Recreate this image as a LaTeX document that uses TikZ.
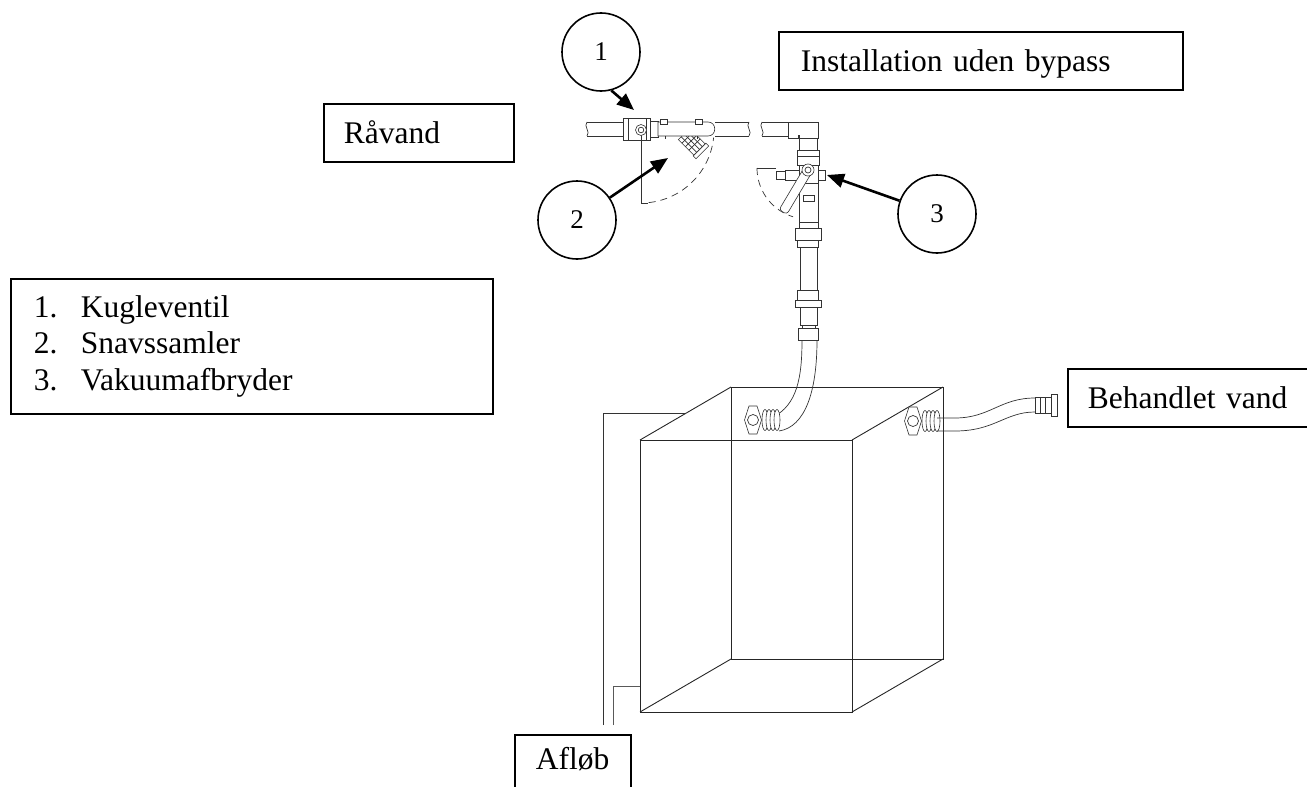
\documentclass[tikz,border=0pt]{standalone}
\usepackage{fontspec}
\setmainfont{Liberation Serif}
\usetikzlibrary{arrows.meta}
\begin{document}
\begin{tikzpicture}[x=1pt,y=-1pt,
  lbl/.style={draw, line width=1.6pt, anchor=north west, text height=22pt, text depth=0pt,
    font=\fontsize{31.5}{36.5}\selectfont, align=left, minimum height=58pt, inner ysep=0pt},
  num/.style={draw, circle, line width=1.6pt, minimum size=78pt, inner sep=0pt, font=\fontsize{27}{30}\selectfont},
  pointer/.style={-{Triangle[length=17pt,width=14pt]}, line width=2.6pt},
  ln/.style={line width=0.7pt, draw=black!80},
  part/.style={line width=0.6pt, draw=black!80, fill=white},
  edge3d/.style={line width=0.9pt, draw=black!85},
  swing/.style={line width=0.7pt, draw=black!80, dash pattern=on 7pt off 5pt},
  brk/.pic={\draw[ln] (0,-7) .. controls (-4,-3) and (4,3) .. (0,7);},
  fitting/.pic={
    \draw[part] (-4,-14) -- (4,-14) -- (8.5,0) -- (4,14) -- (-4,14) -- (-8.5,0) -- cycle;
    \draw[ln] (0,0) circle[radius=5.5];
    \foreach \k in {12,16,20,24} {\draw[part] (\k,0) ellipse[x radius=3, y radius=10.5];}
  },
]
\useasboundingbox (0,0) rectangle (1307,787);

% ---------- text boxes ----------
\node[lbl, inner xsep=20pt, text width=150pt] (raavand) at (323,103) {Råvand};
\node[lbl, inner xsep=22pt, text width=360pt] (install) at (778,31) {Installation uden bypass};
\node[lbl, inner xsep=20pt, text width=200pt] (behandlet) at (1067,368) {Behandlet vand};
\node[lbl, inner xsep=21pt, text width=74pt, minimum height=70pt, text depth=22pt] (afloeb) at (514,734) {Afløb};
\node[draw, line width=1.6pt, anchor=north west, inner xsep=23pt, text width=436pt, minimum height=135pt,
  align=left, font=\fontsize{31.5}{36.5}\selectfont] (legend) at (10,278)
  {\makebox[47pt][l]{1.}Kugleventil\\\makebox[47pt][l]{2.}Snavssamler\\\makebox[47pt][l]{3.}Vakuumafbryder};

% ---------- tank (wire-frame box) ----------
\draw[edge3d] (640,440) rectangle (852,712);
\draw[edge3d] (731,387) rectangle (943,659);
\draw[edge3d] (640,440) -- (731,387) (852,440) -- (943,387) (640,712) -- (731,659) (852,712) -- (943,659);

% ---------- drain ----------
\draw[ln] (603,725) -- (603,413) -- (686,413);
\draw[ln, draw=black!65] (613,725) -- (613,686) -- (640,686);

% ---------- horizontal supply pipe ----------
\draw[ln] (587,122) -- (623,122) (587,136) -- (623,136);
\pic at (587,129) {brk};
% ball valve 1
\draw[part] (623,118) rectangle (650,140);
\draw[ln] (628,118) -- (628,140) (646,118) -- (646,140);
\draw[part] (650,121) rectangle (658,137);
% swing of handle 1
\draw[ln] (641,130) -- (641,203) -- (648,203);
\draw[swing] plot[domain=84:6, samples=30, smooth] ({641+73*cos(\x)},{130+73*sin(\x)});
\draw[part] (641,130) circle[radius=5.5];
\draw[ln] (641,130) circle[radius=2.8];
% strainer (Y leg with mesh)
\begin{scope}[shift={(684,134)}, rotate=-45]
  \draw[part] (0,-8) rectangle (22,8);
  \foreach \k in {5,10,15} {\draw[ln] (\k,-8) -- (\k,8);}
  \foreach \k in {-4,0,4} {\draw[ln] (0,\k) -- (22,\k);}
  \draw[part] (22,-9) rectangle (26,9);
\end{scope}
\draw[part] (658,122) -- (708,122) .. controls (717,122) and (717,136) .. (708,136) -- (658,136) -- cycle;
\draw[part] (660,119) rectangle (667,124);
\draw[part] (695,119) rectangle (702,124);
\draw[ln] (665,136) -- (665,139) (697,136) -- (697,139);
\draw[ln] (715,122) -- (749,122) (715,136) -- (749,136);
\pic at (749,129) {brk};
% second pipe and elbow
\pic at (762,129) {brk};
\draw[ln] (762,122) -- (788,122) (762,136) -- (788,136);
\draw[part] (788,122) rectangle (798,138);
\draw[part] (798,122) -- (818,122) -- (818,138) -- (799,138) -- (799,135) -- (798,135);

% ---------- vertical assembly with vacuum breaker ----------
\draw[part] (799,138) rectangle (817,150);
\draw[part] (797,150) rectangle (819,165);
\draw[ln] (797,156) -- (819,156);
% swing of handle 3
\draw[ln] (757,168) -- (776,168);
\draw[swing] plot[domain=180:107, samples=30, smooth] ({808+51*cos(\x)},{168+51*sin(\x)});
\draw[part] (799,165) rectangle (818,183);
\draw[part] (785,170) rectangle (799,180);
\draw[part] (776,171) rectangle (785,179);
\draw[part] (818,170) rectangle (825,180);
\draw[part] (799,183) rectangle (818,222);
\draw[part] (803,195) rectangle (814,201);
\draw[part, rounded corners=3pt] (811.9,172.3) -- (786.9,214.3) -- (779.1,209.7) -- (804.1,167.7) -- cycle;
\draw[part] (808,170) circle[radius=6];
\draw[ln] (808,170) circle[radius=3];
\draw[part] (799,222) rectangle (818,228);
\draw[part] (795,228) rectangle (821,240);
\draw[part] (797,240) rectangle (818,247);
\draw[part] (800,247) rectangle (817,290);
\draw[part] (797,290) rectangle (818,300);
\draw[part] (795,300) rectangle (821,307);
\draw[part] (800,307) rectangle (817,325);
\draw[part] (802,325) rectangle (815,328);
\draw[part] (798,328) rectangle (818,340);

% ---------- inlet hose ----------
\draw[ln] (802,340) .. controls (802,378) and (797,405) .. (773,417);
\draw[ln] (817,340) .. controls (817,392) and (805,427) .. (779,431);
\pic at (753,420) {fitting};

% ---------- outlet hose ----------
\pic at (913,421) {fitting};
\draw[ln] (937,418) -- (955,418) .. controls (990,418) and (1000,398) .. (1035,398);
\draw[ln] (937,431) -- (955,431) .. controls (995,431) and (1005,412) .. (1035,412);
\draw[part] (1035,397) rectangle (1051,413);
\draw[ln] (1040,397) -- (1040,413) (1045,397) -- (1045,413);
\draw[part] (1051,394) rectangle (1057,416);

% ---------- numbered callouts ----------
\node[num] (c1) at (601,52) {1};
\node[num] (c2) at (577,220) {2};
\node[num] (c3) at (937,214) {3};
\coordinate (t1) at (634,110);
\coordinate (t2) at (668,158);
\coordinate (t3) at (827,175);
\draw[pointer] (c1.-75) -- (t1);
\draw[pointer] (c2) -- (t2);
\draw[pointer] (c3) -- (t3);
\end{tikzpicture}
\end{document}
